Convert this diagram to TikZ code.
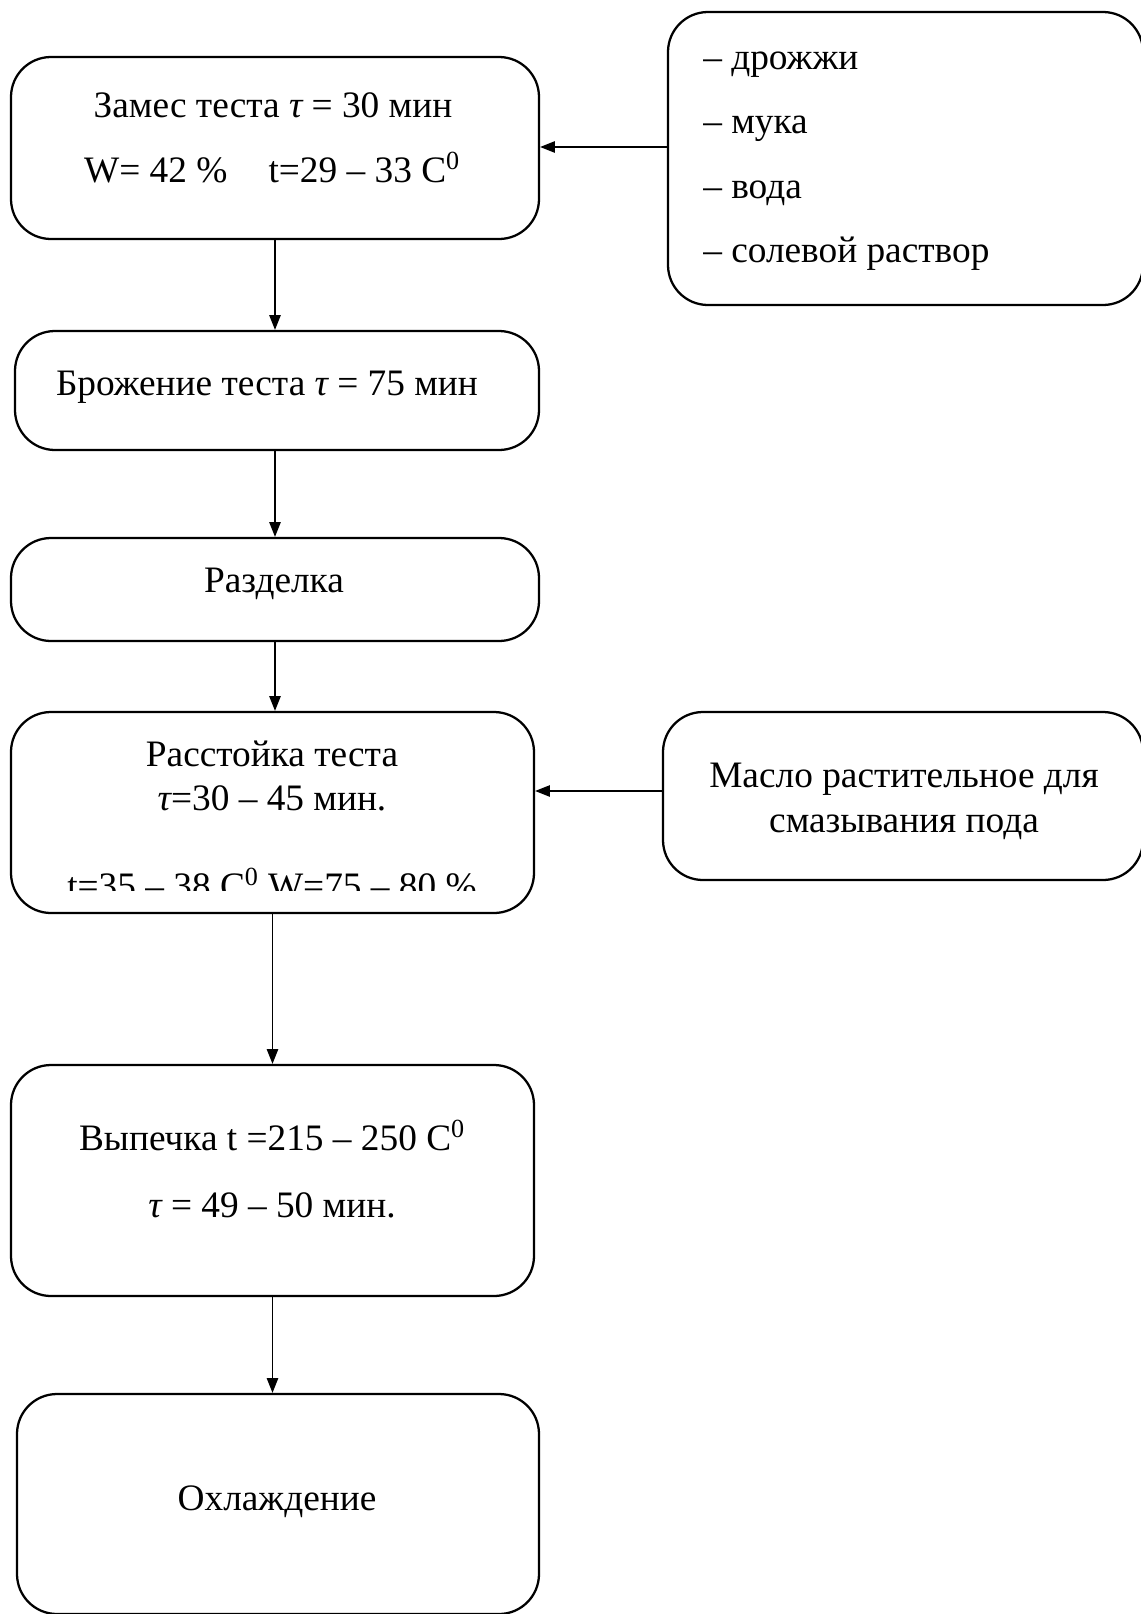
\documentclass[tikz,border=0pt]{standalone}
\usepackage{fontspec}
\setmainfont{Liberation Serif}
\usetikzlibrary{arrows.meta,fit}
\newcommand{\tauit}{{\itshape τ}}
\begin{document}
\begin{tikzpicture}[x=0.75pt,y=-0.75pt,
  box/.style={draw, line width=1.7pt, rounded corners=30pt, inner sep=0pt},
  conn/.style={line width=0.9pt, -{Triangle[length=11pt,width=8.5pt]}},
  txt/.style={font=\fontsize{28}{34}\selectfont, anchor=base, inner sep=0pt},
  txtl/.style={font=\fontsize{28}{34}\selectfont, anchor=base west, inner sep=0pt}]
\useasboundingbox (0,0) rectangle (1141,1614);
% boxes
\node[box, fit={(11,57)(539,239)}] (b1) {};
\node[box, fit={(668,12)(1143,305)}] (ing) {};
\node[box, fit={(15,331)(539,450)}] (b2) {};
\node[box, fit={(11,538)(539,641)}] (b3) {};
\node[box, fit={(11,712)(534,913)}] (b4) {};
\node[box, fit={(663,712)(1143,880)}] (m) {};
\node[box, fit={(11,1065)(534,1296)}] (b6) {};
\node[box, fit={(17,1394)(539,1614)}] (b7) {};
% texts
\node[txt] (t1a) at (273,117) {Замес теста \tauit{} = 30 мин};
\node[txt] (t1b) at (272,182) {W= 42 \%\hspace{1.1em}t=29 – 33 C\textsuperscript{0}};
\node[txtl] (i1) at (703,69) {– дрожжи};
\node[txtl] (i2) at (703,133) {– мука};
\node[txtl] (i3) at (703,198) {– вода};
\node[txtl] (i4) at (703,262) {– солевой раствор};
\node[txt] (t2) at (267,395) {Брожение теста \tauit{} = 75 мин};
\node[txt] (t3) at (274,592) {Разделка};
\node[txt] (t4a) at (272,766) {Расстойка теста};
\node[txt] (t4b) at (272,810) {\tauit{}=30 – 45 мин.};
\begin{scope}
\clip (0,700) rectangle (660,890);
\node[txt] (t4c) at (272,898) {t=35 – 38 C\textsuperscript{0} W=75 – 80 \%};
\end{scope}
\node[txt] (t5a) at (904,787) {Масло растительное для};
\node[txt] (t5b) at (904,832) {смазывания пода};
\node[txt] (t6a) at (272,1150) {Выпечка t =215 – 250 C\textsuperscript{0}};
\node[txt] (t6b) at (272,1217) {\tauit{} = 49 – 50 мин.};
\node[txt] (t7) at (277,1510) {Охлаждение};
% connectors
\coordinate (a1) at (0,147);
\coordinate (a2) at (0,791);
\draw[conn] (ing.west |- a1) -- (b1.east |- a1);
\draw[conn] (m.west |- a2) -- (b4.east |- a2);
\draw[conn] (b1.south) -- (b1.south |- b2.north);
\draw[conn] (b2.south -| b1.south) -- (b3.north -| b1.south);
\draw[conn] (b3.south) -- (b3.south |- b4.north);
\draw[conn] (b4.south) -- (b6.north);
\draw[conn] (b6.south) -- (b6.south |- b7.north);
\end{tikzpicture}
\end{document}
